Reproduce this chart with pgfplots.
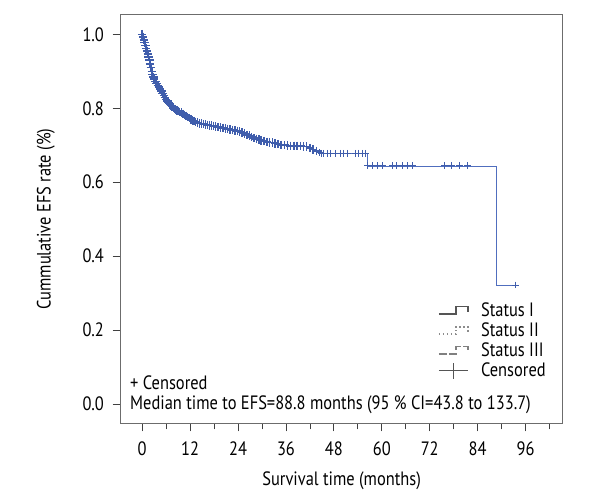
\documentclass[border=0pt]{standalone}
\usepackage{fontspec}
\setmainfont[FakeStretch=0.85]{PT Sans}
\usepackage{pgfplots}
\usepackage{pgfplotstable}
\pgfplotsset{compat=1.18}
\definecolor{kmblue}{RGB}{63,93,172}
\definecolor{kmline}{RGB}{80,110,190}
\definecolor{leggray}{RGB}{85,85,85}

\pgfplotstableread{
t S
0.0 1.000
0.2 0.993
0.4 0.985
0.6 0.978
0.8 0.970
1.0 0.962
1.2 0.955
1.4 0.947
1.6 0.938
1.8 0.930
2.0 0.920
2.2 0.910
2.4 0.900
2.6 0.891
2.8 0.884
3.0 0.879
3.3 0.873
3.6 0.867
3.9 0.862
4.2 0.857
4.5 0.852
4.8 0.846
5.1 0.840
5.4 0.835
5.7 0.829
6.0 0.824
6.3 0.819
6.6 0.815
6.9 0.811
7.2 0.807
7.5 0.804
7.8 0.801
8.1 0.798
8.4 0.796
8.7 0.794
9.0 0.792
9.4 0.790
9.8 0.788
10.2 0.785
10.6 0.782
11.0 0.779
11.4 0.776
11.8 0.773
12.2 0.770
12.6 0.767
13.0 0.765
13.4 0.763
13.8 0.761
14.3 0.759
14.8 0.758
15.3 0.757
15.8 0.756
16.3 0.755
16.8 0.754
17.3 0.753
17.8 0.752
18.4 0.751
19.0 0.749
19.6 0.748
20.2 0.747
20.8 0.745
21.4 0.744
22.0 0.742
22.6 0.741
23.2 0.740
23.8 0.739
24.4 0.737
25.0 0.734
25.6 0.731
26.2 0.728
26.8 0.726
27.4 0.722
28.0 0.719
28.6 0.717
29.2 0.715
29.8 0.713
30.5 0.711
31.2 0.709
31.9 0.708
32.6 0.707
33.3 0.705
34.0 0.703
34.8 0.701
35.6 0.700
36.4 0.699
37.2 0.698
38.0 0.698
38.8 0.698
39.6 0.698
40.4 0.697
41.2 0.696
42.0 0.692
42.8 0.688
43.6 0.684
44.4 0.680
45.0 0.678
45.5 0.678
46.3 0.678
47.2 0.678
48.4 0.678
49.7 0.678
50.5 0.678
51.3 0.678
53.4 0.678
54.2 0.678
55.1 0.678
55.9 0.678
56.5 0.644
57.7 0.644
59.0 0.644
60.2 0.644
62.7 0.644
63.6 0.644
65.2 0.644
66.4 0.644
67.7 0.644
75.7 0.644
77.4 0.644
79.4 0.644
81.5 0.644
88.6 0.322
93.5 0.322
}\kmline

\begin{document}
\fontsize{14.5pt}{17pt}\selectfont
\begin{tikzpicture}
\begin{axis}[
  scale only axis, width=331.5pt, height=306.5pt,
  xmin=-5.4, xmax=105.3, ymin=-0.052, ymax=1.053,
  xtick={0,12,24,36,48,60,72,84,96},
  minor xtick={6,18,30,42,54,66,78,90,102},
  ytick={0,0.2,0.4,0.6,0.8,1.0},
  yticklabel style={/pgf/number format/fixed, /pgf/number format/fixed zerofill, /pgf/number format/precision=1, xshift=-1.5pt},
  xticklabel style={yshift=-3pt},
  /pgf/number format/assume math mode=true,
  tick align=outside, xtick pos=bottom, ytick pos=left,
  major tick length=6pt, minor tick length=4.5pt,
  axis line style={gray!85!black, line width=0.6pt},
  tick style={black!75, line width=0.6pt},
  xlabel={Survival time (months)},
  ylabel={Cummulative EFS rate (\%)},
  xlabel style={at={(axis description cs:0.5,-0.1412)}, anchor=center},
  ylabel style={at={(axis description cs:-0.169,0.5)}, anchor=center},
  clip=false,
  legend style={draw=none, fill=none, at={(rel axis cs:0.708,0.31)}, anchor=north west,
    row sep=-1.5pt, font=\fontsize{14.5pt}{17pt}\selectfont, legend cell align=left,
    nodes={inner sep=2pt}},
]
\addplot[kmline, line width=0.55pt, const plot, forget plot] table[x=t, y=S] {\kmline};
\addplot[kmblue, only marks, mark=+, mark size=3.2pt, line width=1.1pt, forget plot,
  x filter/.expression={x>44 ? nan : x}] table[x=t, y=S] {\kmline};
\addplot[kmblue, only marks, mark=+, mark size=2.6pt, line width=0.7pt, forget plot,
  x filter/.expression={(x<44 || x==88.6) ? nan : x}] table[x=t, y=S] {\kmline};

\addlegendimage{legend image code/.code={\draw[leggray, line width=1.2pt] (-2pt,-2.5pt) -- (11pt,-2.5pt) -- (11pt,3pt) -- (20pt,3pt) -- (20pt,-1pt);}}
\addlegendentry{\hspace{7pt}Status I}
\addlegendimage{legend image code/.code={\draw[gray!90, line width=1.4pt, dash pattern=on 1.2pt off 1.8pt] (-2pt,-2.5pt) -- (11pt,-2.5pt) -- (11pt,3pt) -- (20pt,3pt) -- (20pt,-1pt);}}
\addlegendentry{\hspace{7pt}Status II}
\addlegendimage{legend image code/.code={\draw[gray, line width=1.2pt, dash pattern=on 6pt off 2pt] (-2pt,-2.5pt) -- (11pt,-2.5pt) -- (11pt,3pt) -- (20pt,3pt) -- (20pt,-1pt);}}
\addlegendentry{\hspace{7pt}Status III}
\addlegendimage{legend image code/.code={\draw[leggray, line width=1pt] (-2pt,0pt) -- (20pt,0pt); \draw[leggray, line width=1pt] (9pt,-6pt) -- (9pt,6pt);}}
\addlegendentry{\hspace{7pt}Censored}

\node[anchor=west, inner sep=0pt] at (rel axis cs:0.021,0.0986) {+ Censored};
\node[anchor=west, inner sep=0pt] at (rel axis cs:0.021,0.0448) {Median time to EFS=88.8 months (95 \% CI=43.8 to 133.7)};
\end{axis}
\path ([shift={(-90.5pt,-57.5pt)}]current axis.south west) rectangle ([shift={(28pt,11pt)}]current axis.north east);
\end{tikzpicture}
\end{document}
